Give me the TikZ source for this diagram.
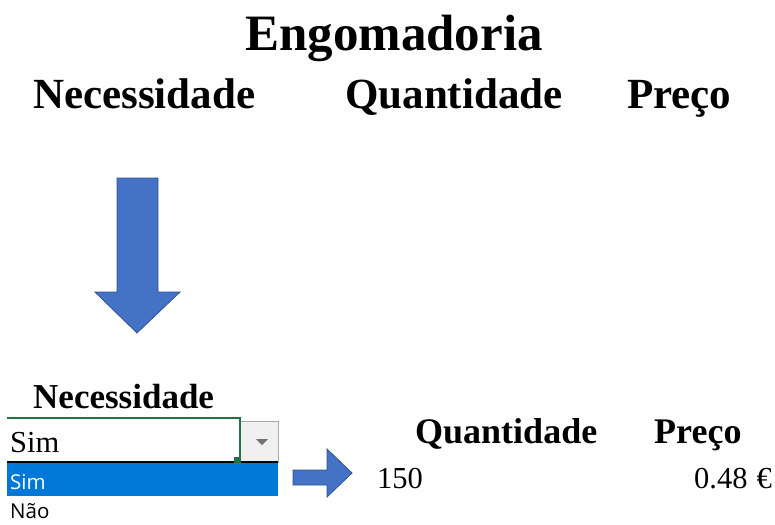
\documentclass[tikz,border=0pt]{standalone}
\usepackage{fontspec}
\setmainfont{Liberation Serif}
\newfontfamily\listfont{Open Sans}
\definecolor{arrowblue}{HTML}{4472C4}
\definecolor{arrowedge}{HTML}{2F528F}
\definecolor{cellgreen}{HTML}{217346}
\definecolor{listblue}{HTML}{0078D7}
\definecolor{buttongray}{HTML}{F0F0F0}
\definecolor{buttonedge}{HTML}{ABABAB}

\begin{document}
\begin{tikzpicture}[x=1pt,y=-1pt,
        every node/.style={inner sep=0pt, anchor=base west},
        titlefont/.style={font=\fontsize{51}{51}\selectfont\bfseries},
        header/.style={font=\fontsize{43}{43}\selectfont\bfseries},
        smallheader/.style={font=\fontsize{36}{36}\selectfont\bfseries},
        cell/.style={font=\fontsize{30.5}{30.5}\selectfont},
        listitem/.style={font=\listfont\fontsize{20.5}{20.5}\selectfont},
        blockarrow/.style={fill=arrowblue, draw=arrowedge, line width=0.8pt}]

        \useasboundingbox (0,0) rectangle (775,524);

        % down arrow
        \coordinate (A) at (117,178);
        \coordinate (B) at (158,178);
        \coordinate (C) at (158,292);
        \coordinate (D) at (180,292);
        \coordinate (E) at (137,333);
        \coordinate (F) at (95,292);
        \coordinate (G) at (117,292);
        \draw[blockarrow] (A) -- (B) -- (C) -- (D) -- (E) -- (F) -- (G) -- cycle;

        % right arrow
        \coordinate (H) at (293,470);
        \coordinate (I) at (327,470);
        \coordinate (J) at (327,449);
        \coordinate (K) at (352,473);
        \coordinate (L) at (327,497);
        \coordinate (M) at (327,485);
        \coordinate (N) at (293,485);
        \draw[blockarrow] (H) -- (I) -- (J) -- (K) -- (L) -- (M) -- (N) -- cycle;

        % dropdown cell
        \fill[listblue] (7,463) rectangle (278,496);
        \draw[buttonedge, fill=buttongray] (240,421) rectangle (278,462);
        \fill[black!55] (256,439) -- (268,439) -- (262,445) -- cycle;
        \draw[black, line width=1.5pt] (7,462) -- (278,462);
        \draw[cellgreen, line width=2pt] (7,418) -- (240,418) -- (240,459);
        \fill[cellgreen] (234,457) rectangle (241,463);

        \node[titlefont] (titulo) at (245,51) {Engomadoria};

        \node[header] (necessidade) at (33,109) {Necessidade};
        \node[header] (quantidade) at (345,109) {Quantidade};
        \node[header] (preco) at (627,109) {Preço};

        \node[smallheader, font=\fontsize{35}{35}\selectfont\bfseries] (necessidade2) at (33,408) {Necessidade};
        \node[smallheader] (quantidade2) at (415,443) {Quantidade};
        \node[smallheader] (preco2) at (654,443) {Preço};

        \node[cell] (escolha) at (10,452) {Sim};
        \node[cell] (valor) at (377,488) {150};
        \node[cell, anchor=base east] (custo) at (772,488) {0.48\hspace{9pt}€};

        \node[listitem, white] (opcao1) at (10,489) {Sim};
        \node[listitem] (opcao2) at (10,518) {Não};

    \end{tikzpicture}
\end{document}
